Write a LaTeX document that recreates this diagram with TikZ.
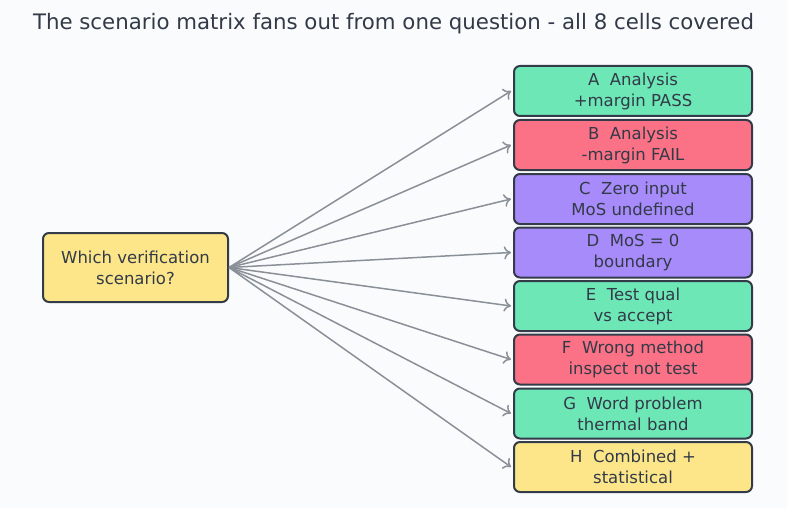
\documentclass[tikz,border=0pt]{standalone}
\usepackage{fontspec}
\setmainfont{DejaVu Sans}
\usetikzlibrary{arrows.meta}
\definecolor{bg}{HTML}{FAFBFD}
\definecolor{ink}{HTML}{323A47}
\definecolor{edge}{HTML}{333B48}
\definecolor{cgreen}{HTML}{6EE7B7}
\definecolor{cred}{HTML}{FB7185}
\definecolor{cpurple}{HTML}{A78BFA}
\definecolor{cyellow}{HTML}{FDE68A}
\definecolor{arrowc}{HTML}{8A9097}
\newcommand{\gapsp}{\hspace{0.64em}}
\begin{document}
\begin{tikzpicture}[x=1pt,y=-1pt,
  box/.style={draw=edge,line width=2pt,rounded corners=6pt,align=center,text=ink,
    font=\fontsize{16.5}{21}\selectfont,inner sep=0pt},
  rbox/.style={box,minimum width=238pt,minimum height=50pt},
  fan/.style={draw=arrowc,line width=1.5pt,-{To[length=7pt,width=13pt]}}]
\fill[bg] (0,0) rectangle (787,508);
\useasboundingbox (0,0) rectangle (787,508);
\node[text=ink,font=\fontsize{21.3}{25}\selectfont] (title) at (393.5,23.5) {The scenario matrix fans out from one question - all 8 cells covered};
\node[box,fill=cyellow,minimum width=185pt,minimum height=69pt] (q) at (135.5,267.5) {Which verification\\scenario?};
\node[rbox,fill=cgreen]  (a) at (633,91)    {A\gapsp Analysis\\+margin PASS};
\node[rbox,fill=cred]    (b) at (633,145)   {B\gapsp Analysis\\-margin FAIL};
\node[rbox,fill=cpurple] (c) at (633,199)   {C\gapsp Zero input\\MoS undefined};
\node[rbox,fill=cpurple] (d) at (633,252.5) {D\gapsp MoS = 0\\boundary};
\node[rbox,fill=cgreen]  (e) at (633,306)   {E\gapsp Test qual\\vs accept};
\node[rbox,fill=cred]    (f) at (633,359.5) {F\gapsp Wrong method\\inspect not test};
\node[rbox,fill=cgreen]  (g) at (633,413.5) {G\gapsp Word problem\\thermal band};
\node[rbox,fill=cyellow] (h) at (633,467)   {H\gapsp Combined +\\statistical};
\foreach \n in {a,b,c,d,e,f,g,h}{
  \draw[fan] (q.east) -- ([xshift=-2pt]\n.west);
}
\end{tikzpicture}
\end{document}
